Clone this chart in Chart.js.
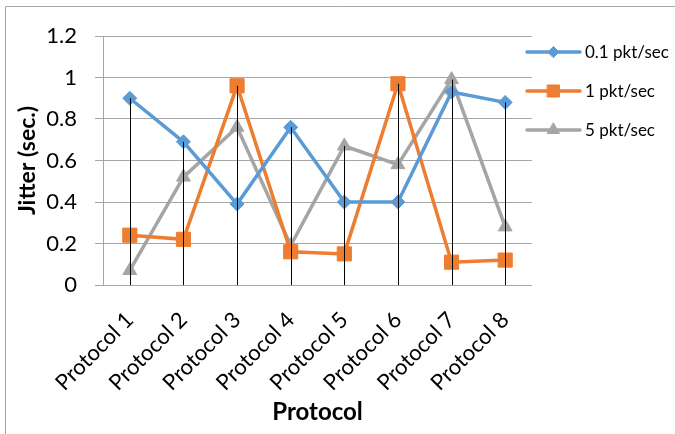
<!DOCTYPE html>
<html>
<head>
<meta charset="utf-8">
<script src="https://cdn.jsdelivr.net/npm/chart.js@4.4.1/dist/chart.umd.min.js"></script>
<style>
  html, body { margin: 0; padding: 0; background: #fff; }
  #wrap { width: 675px; height: 434px; position: relative; }
</style>
</head>
<body>
<div id="wrap"><canvas id="c" width="675" height="434"></canvas></div>
<script>
const categories = ['Protocol 1', 'Protocol 2', 'Protocol 3', 'Protocol 4', 'Protocol 5', 'Protocol 6', 'Protocol 7', 'Protocol 8'];
const seriesLabels = ['0.1 pkt/sec', '1 pkt/sec', '5 pkt/sec'];
const rate01 = [0.90, 0.69, 0.39, 0.76, 0.40, 0.40, 0.93, 0.88];
const rate1  = [0.24, 0.22, 0.96, 0.16, 0.15, 0.97, 0.11, 0.12];
const rate5  = [0.07, 0.52, 0.76, 0.19, 0.67, 0.58, 0.99, 0.28];
const yTicks = [0, 0.2, 0.4, 0.6, 0.8, 1, 1.2];
const yTitle = 'Jitter (sec.)';
const xTitle = 'Protocol';

const colors = ['#5B9BD5', '#ED7D31', '#A5A5A5'];
const styles = ['rectRot', 'rect', 'triangle'];
const radii = [7, 10, 8];
const legendRadii = [5.5, 8.5, 7];
const FONT = 'Lato, "Open Sans", sans-serif';

// Excel-style drop lines from the highest point of each category to the axis
const dropLines = {
  id: 'dropLines',
  afterDatasetsDraw(chart) {
    const x = chart.scales.x, y = chart.scales.y, ctx = chart.ctx;
    ctx.save();
    ctx.strokeStyle = '#000';
    ctx.lineWidth = 1;
    categories.forEach((c, i) => {
      const maxV = Math.max(...chart.data.datasets.map(d => d.data[i]));
      const px = Math.round(x.getPixelForValue(i)) + 0.5;
      ctx.beginPath();
      ctx.moveTo(px, y.getPixelForValue(maxV));
      ctx.lineTo(px, y.getPixelForValue(0));
      ctx.stroke();
    });
    ctx.restore();
  }
};

// Frame border and Excel-style legend (line + marker samples)
const frameLegend = {
  id: 'frameLegend',
  afterDraw(chart) {
    const ctx = chart.ctx;
    ctx.save();
    ctx.strokeStyle = '#A6A6A6';
    ctx.lineWidth = 1;
    ctx.beginPath();
    ctx.moveTo(5.5, 434);
    ctx.lineTo(5.5, 6.5);
    ctx.lineTo(675, 6.5);
    ctx.stroke();

    const lx0 = 527, lx1 = 580, tx = 585;
    const rowY = [52, 91, 130];
    chart.data.datasets.forEach((ds, i) => {
      const yy = rowY[i];
      ctx.strokeStyle = ds.borderColor;
      ctx.lineWidth = 3.5;
      ctx.lineCap = 'round';
      ctx.beginPath();
      ctx.moveTo(lx0, yy);
      ctx.lineTo(lx1, yy);
      ctx.stroke();
      ctx.fillStyle = ds.borderColor;
      ctx.strokeStyle = ds.borderColor;
      ctx.lineWidth = 1;
      Chart.helpers.drawPoint(ctx, {
        pointStyle: ds.pointStyle, radius: legendRadii[i], rotation: 0, borderWidth: 1
      }, (lx0 + lx1) / 2, yy);
      ctx.fillStyle = '#000';
      ctx.font = '17px ' + FONT;
      ctx.textBaseline = 'middle';
      ctx.textAlign = 'left';
      ctx.fillText(ds.label, tx, yy + 1);
    });
    ctx.restore();
  }
};

const seriesData = [rate01, rate1, rate5];
new Chart(document.getElementById('c'), {
  type: 'line',
  data: {
    labels: categories,
    datasets: seriesData.map((d, i) => ({
      label: seriesLabels[i],
      data: d,
      borderColor: colors[i],
      backgroundColor: colors[i],
      pointBackgroundColor: colors[i],
      pointBorderColor: colors[i],
      borderWidth: 3.5,
      pointStyle: styles[i],
      pointRadius: radii[i],
      pointBorderWidth: 1,
      tension: 0,
      fill: false
    }))
  },
  options: {
    responsive: false,
    animation: false,
    events: [],
    layout: { padding: { top: 36, right: 143, left: 0, bottom: 0 } },
    plugins: {
      legend: { display: false },
      tooltip: { enabled: false },
      title: { display: false }
    },
    scales: {
      x: {
        type: 'category',
        offset: true,
        grid: { display: false, drawOnChartArea: false },
        border: { display: false },
        ticks: {
          color: '#000',
          font: { family: FONT, size: 22 },
          maxRotation: 45,
          minRotation: 45,
          padding: 14,
          autoSkip: false
        },
        title: {
          display: true,
          text: xTitle,
          color: '#000',
          font: { family: FONT, size: 24, weight: 'bold' },
          padding: { top: 0, bottom: 7 }
        },
        afterFit(scale) { scale.height = 149; }
      },
      y: {
        min: 0,
        max: 1.2,
        afterBuildTicks(scale) { scale.ticks = yTicks.map(v => ({ value: v })); },
        grid: {
          color: '#A6A6A6',
          lineWidth: 1,
          drawTicks: true,
          tickLength: 8
        },
        border: { display: true, color: '#A6A6A6', width: 1 },
        ticks: {
          color: '#000',
          font: { family: FONT, size: 22 },
          padding: 18,
          callback: v => String(Math.round(v * 10) / 10)
        },
        title: {
          display: true,
          text: yTitle,
          color: '#000',
          font: { family: FONT, size: 23, weight: 'bold' },
          padding: { top: 14, bottom: 0 }
        },
        afterFit(scale) { scale.width = 103; }
      }
    }
  },
  plugins: [dropLines, frameLegend]
});
</script>
</body>
</html>
